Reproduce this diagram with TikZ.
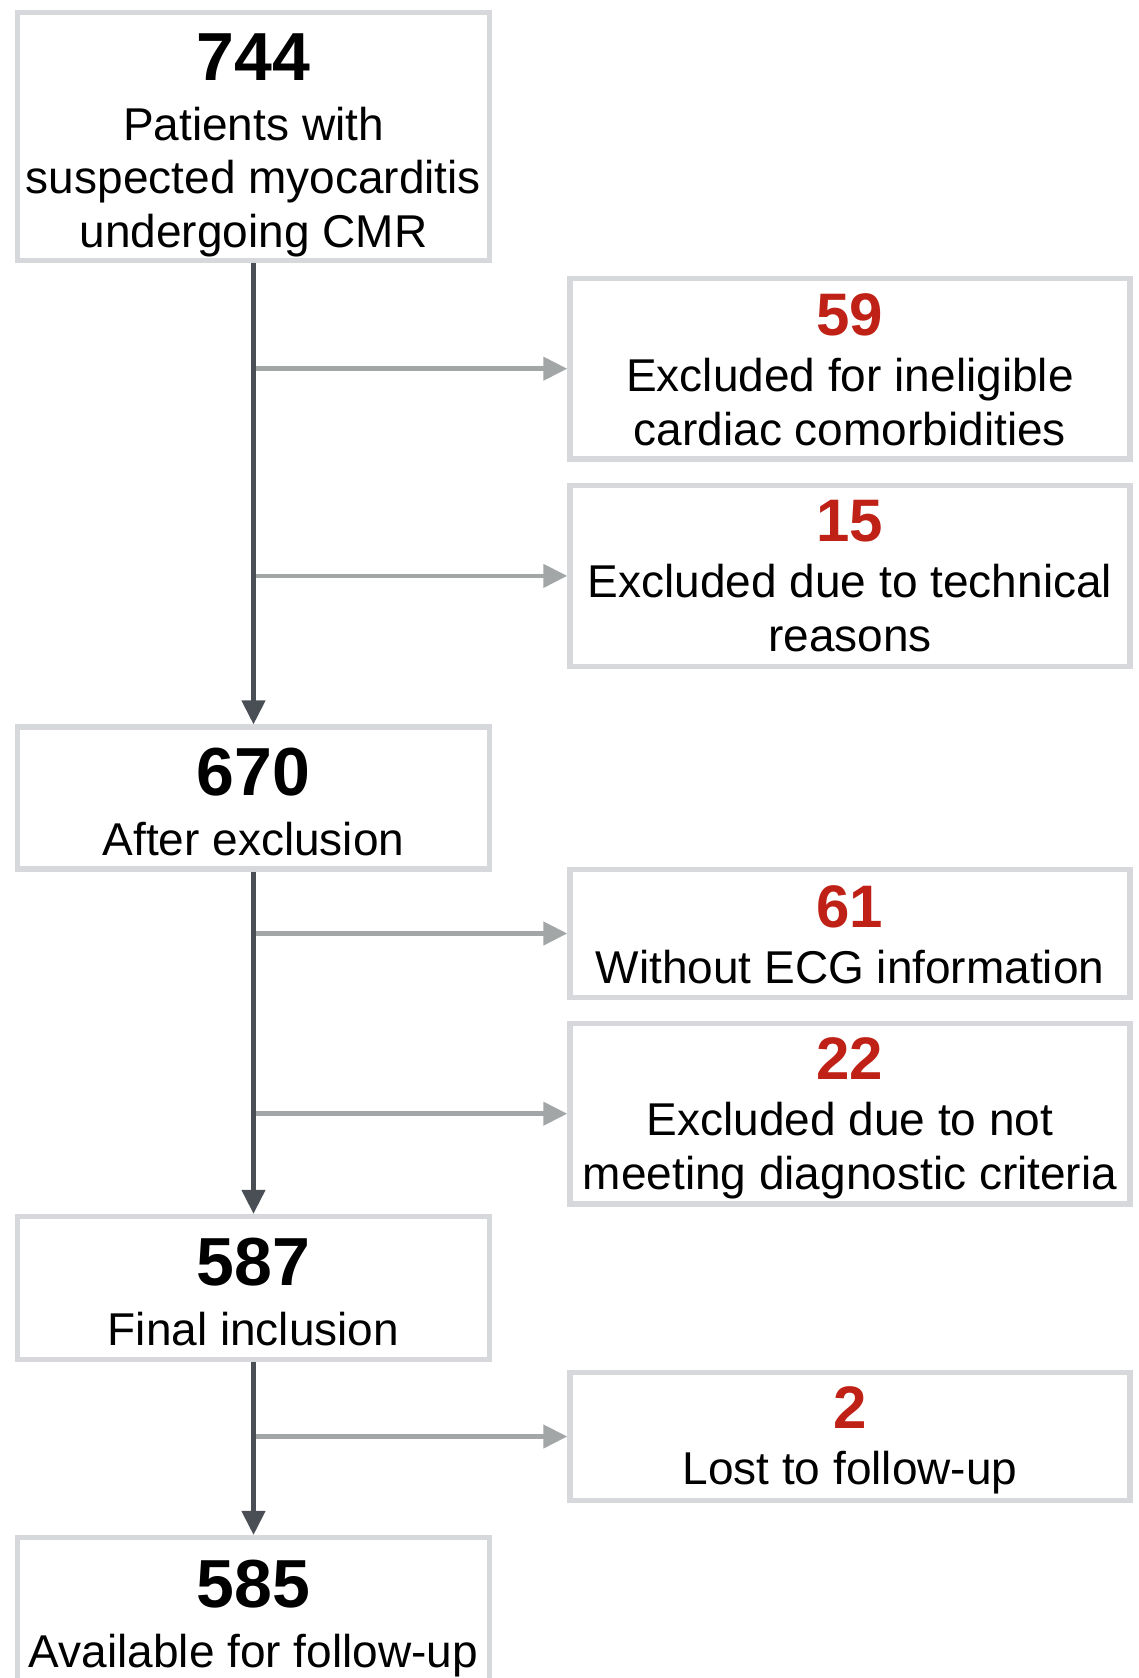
\documentclass[tikz,border=0pt]{standalone}
\usepackage{fontspec}
\setmainfont{Liberation Sans}
\usetikzlibrary{arrows.meta}
\definecolor{boxgray}{RGB}{214,216,219}
\definecolor{trunkgray}{RGB}{74,79,86}
\definecolor{branchgray}{RGB}{163,166,166}
\definecolor{numred}{RGB}{192,33,22}
\newcommand{\bignum}[1]{{\fontsize{68}{68}\selectfont\bfseries #1}}
\newcommand{\rednum}[1]{{\fontsize{60}{60}\selectfont\bfseries\color{numred}#1}}
\begin{document}
\begin{tikzpicture}[x=1pt,y=-1pt,
  box/.style={draw=boxgray, line width=5.5pt, rectangle, inner sep=0pt, align=center,
    font=\fontsize{46}{53.5}\selectfont, text depth=0pt},
  leftbox/.style={box, minimum width=472pt},
  rightbox/.style={box, minimum width=560pt},
  trunk/.style={draw=trunkgray, line width=4.5pt, -{Triangle[length=24pt,width=23pt]}},
  branch/.style={draw=branchgray, line width=4.5pt, -{Triangle[length=24pt,width=23pt]}},
]
\useasboundingbox (0,0) rectangle (1139,1678);
\clip (0,0) rectangle (1139,1678);
\fill[white] (0,0) rectangle (1139,1678);

% main column
\node[leftbox, minimum height=248pt, text height=221pt] (b744) at (253.5,136.5)
  {\bignum{744}\\[6.5pt] Patients with\\ suspected myocarditis\\ undergoing CMR};
\node[leftbox, minimum height=141.7pt, text height=114pt] (b670) at (253.5,798)
  {\bignum{670}\\[6.5pt] After exclusion};
\node[leftbox, minimum height=142.7pt, text height=115.2pt] (b587) at (253.5,1287.9)
  {\bignum{587}\\[6.5pt] Final inclusion};
\node[leftbox, minimum height=142.7pt, text height=116pt] (b585) at (253.5,1609)
  {\bignum{585}\\[6.5pt] Available for follow-up};

% side boxes
\node[rightbox, minimum height=180.5pt, text height=152.6pt] (b59) at (850,368.7)
  {\rednum{59}\\[2.5pt] Excluded for ineligible\\ cardiac comorbidities};
\node[rightbox, minimum height=181pt, text height=150.2pt] (b15) at (850,575.9)
  {\rednum{15}\\[2.5pt] Excluded due to technical\\ reasons};
\node[rightbox, minimum height=128pt, text height=99pt] (b61) at (850,933.5)
  {\rednum{61}\\[2.5pt] Without ECG information};
\node[rightbox, minimum height=180.5pt, text height=150.6pt] (b22) at (850,1113.7)
  {\rednum{22}\\[2.5pt] Excluded due to not\\ meeting diagnostic criteria};
\node[rightbox, minimum height=128pt, text height=95pt] (b2) at (850,1436.5)
  {\rednum{2}\\[2.5pt] Lost to follow-up};

% branches
\draw[branch] (b744.south |- b59.west) -- (b59.west);
\draw[branch] (b744.south |- b15.west) -- (b15.west);
\draw[branch] (b670.south |- b61.west) -- (b61.west);
\draw[branch] (b670.south |- b22.west) -- (b22.west);
\draw[branch] (b587.south |- b2.west) -- (b2.west);

% trunk
\draw[trunk] (b744.south) -- (b670.north);
\draw[trunk] (b670.south) -- (b587.north);
\draw[trunk] (b587.south) -- (b585.north);
\end{tikzpicture}
\end{document}
